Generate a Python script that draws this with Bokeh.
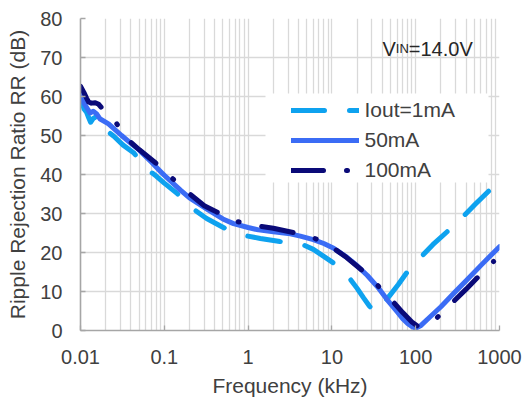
from bokeh.plotting import figure
from bokeh.models import (Range1d, FixedTicker, CustomJSTickFormatter, Legend,
                          LegendItem, Label, BoxAnnotation)
from bokeh.embed import file_html
from bokeh.resources import INLINE

# ---------------- data ----------------
freq_1mA = [0.0100, 0.0105, 0.0110, 0.0118, 0.0125, 0.0132, 0.0142, 0.0160,
            0.0175, 0.0190, 0.0204, 0.0250, 0.0320, 0.0430, 0.0520, 0.0630,
            0.0800, 0.1000, 0.1430, 0.2170, 0.3200, 0.5400, 0.8800, 1.4,
            2.4, 4.2, 6.0, 8.0, 10.5, 13, 16, 20, 24, 28, 31, 34, 37, 41,
            50, 62, 78, 114, 160, 245, 360, 520, 780]
rr_1mA = [59.6, 58.2, 56.8, 56.0, 54.6, 53.4, 54.4, 55.0,
          53.4, 52.0, 51.3, 49.8, 47.6, 45.6, 43.4, 41.3,
          39.6, 37.8, 35.1, 31.3, 28.7, 26.1, 24.4, 23.6,
          22.8, 22.3, 20.8, 19.0, 17.3, 15.6, 13.6, 10.8, 8.3, 6.3, 5.1, 4.7, 5.5, 6.9,
          9.2, 11.8, 14.8, 18.7, 22.0, 25.6, 29.0, 32.5, 36.2]

freq_50mA = [0.0100, 0.0105, 0.0110, 0.0120, 0.0130, 0.0142, 0.0155, 0.0170,
             0.0216, 0.0309, 0.0400, 0.0500, 0.0700, 0.0900, 0.1000, 0.1560,
             0.2000, 0.3300, 0.5000, 0.6700, 1.0, 1.33, 2.0, 3.0, 4.2, 6.0,
             8.0, 10.5, 15, 20, 26.5, 35, 46, 60, 70, 80, 90, 100, 114,
             150, 200, 283, 410, 600, 1000]
rr_50mA = [61.0, 59.6, 58.3, 57.0, 55.8, 56.2, 55.6, 54.3,
           53.0, 50.0, 48.0, 46.3, 43.2, 40.8, 39.8, 36.0,
           34.0, 31.0, 28.6, 27.4, 26.4, 25.8, 25.3, 24.9, 24.2, 23.3,
           22.3, 21.1, 18.8, 16.6, 14.1, 11.2, 7.8, 4.8, 3.0, 1.8, 1.0, 0.6, 1.2,
           3.6, 6.1, 9.5, 13.0, 16.7, 21.5]

freq_100mA = [0.0100, 0.0105, 0.0110, 0.0118, 0.0125, 0.0135, 0.0150, 0.0165,
              0.0180, 0.0200, 0.0260, 0.0354, 0.0500, 0.0784, 0.1180, 0.1790,
              0.3000, 0.4300, 0.7200, 1.22, 2.0, 3.5, 6.0, 10, 15, 23, 35,
              52, 70, 90, 107, 125, 180, 275, 400, 560, 850]
rr_100mA = [62.6, 61.8, 61.0, 59.6, 58.6, 58.3, 58.4, 58.0,
            57.0, 55.8, 53.6, 49.2, 46.4, 43.0, 39.5, 35.9,
            32.0, 30.3, 28.0, 26.9, 26.2, 25.1, 23.8, 21.4, 18.7, 15.4, 11.6,
            7.7, 4.6, 2.2, 1.0, 1.4, 3.3, 7.2, 10.6, 13.8, 17.7]

series_labels = ["Iout=1mA", "50mA", "100mA"]
x_major_ticks = [0.01, 0.1, 1, 10, 100, 1000]
x_minor_ticks = [m * d for d in [0.01, 0.1, 1, 10, 100] for m in range(2, 10)]
y_ticks = [0, 10, 20, 30, 40, 50, 60, 70, 80]
x_title = "Frequency (kHz)"
y_title = "Ripple Rejection Ratio RR (dB)"

# ---------------- styling ----------------
C1 = "#0ea2ef"
C2 = "#3b6cf5"
C3 = "#0a0a78"
GRID = "#d9d9d9"
AXIS = "#a6a6a6"
TXT = "#404040"
FONT = "Liberation Sans"

p = figure(width=524, height=401, x_axis_type="log",
           x_range=Range1d(0.01, 1000), y_range=Range1d(0, 80),
           output_backend="svg", toolbar_location=None,
           min_border_left=80, min_border_right=25,
           min_border_top=18, min_border_bottom=71)
p.outline_line_color = None
p.background_fill_color = "white"
p.border_fill_color = "white"

xt = FixedTicker(ticks=x_major_ticks, minor_ticks=x_minor_ticks)
yt = FixedTicker(ticks=y_ticks)
p.xaxis.ticker = xt
p.yaxis.ticker = yt
p.xgrid.ticker = xt
p.ygrid.ticker = yt
p.xaxis.formatter = CustomJSTickFormatter(code="return tick.toString();")

for g in (p.xgrid, p.ygrid):
    g.grid_line_color = GRID
    g.grid_line_width = 1.3
p.xgrid.minor_grid_line_color = GRID
p.xgrid.minor_grid_line_width = 1.3

for ax in (p.xaxis, p.yaxis):
    ax.axis_line_color = AXIS
    ax.axis_line_width = 1.6
    ax.major_tick_line_color = AXIS
    ax.major_tick_line_width = 1.3
    ax.major_tick_in = 5
    ax.major_tick_out = 0
    ax.minor_tick_line_color = None
    ax.major_label_text_font = FONT
    ax.major_label_text_font_size = "20px"
    ax.major_label_text_color = TXT
    ax.axis_label_text_font = FONT
    ax.axis_label_text_font_size = "21px"
    ax.axis_label_text_font_style = "normal"
    ax.axis_label_text_color = TXT

p.xaxis.axis_label = x_title
p.yaxis.axis_label = y_title
p.xaxis.major_label_standoff = 15
p.xaxis.axis_label_standoff = 7
p.yaxis.major_label_standoff = 18
p.yaxis.axis_label_standoff = 8

r1 = p.line(freq_1mA, rr_1mA, line_color=C1, line_width=5,
            line_dash="33 25", line_cap="round", line_join="round")
r2 = p.line(freq_50mA, rr_50mA, line_color=C2, line_width=5,
            line_cap="round", line_join="round")
r3 = p.line(freq_100mA, rr_100mA, line_color=C3, line_width=5,
            line_dash="32 23 1 23", line_cap="round", line_join="round")

box = BoxAnnotation(left=185, right=408, top=237, bottom=148,
                    left_units="screen", right_units="screen",
                    top_units="screen", bottom_units="screen",
                    fill_color="white", fill_alpha=1.0, line_color=None)
p.add_layout(box)

legend = Legend(items=[LegendItem(label=series_labels[0], renderers=[r1]),
                       LegendItem(label=series_labels[1], renderers=[r2]),
                       LegendItem(label=series_labels[2], renderers=[r3])],
                location=(210.5, 148), padding=4, spacing=6, margin=0,
                glyph_width=68, glyph_height=22, label_standoff=6,
                label_text_font=FONT, label_text_font_size="21px",
                label_text_color=TXT, background_fill_alpha=0,
                border_line_color=None)
p.add_layout(legend)

VCOL = "#262626"
for txt, xs, fs in (("V", 302, "20px"), ("IN", 315.3, "13px"), ("=14.0V", 328.3, "20px")):
    p.add_layout(Label(x=xs, y=282, x_units="screen", y_units="screen", text=txt,
                       text_font=FONT, text_font_size=fs, text_color=VCOL,
                       text_baseline="alphabetic", text_align="left"))

open("out.html", "w").write(file_html(p, INLINE))
